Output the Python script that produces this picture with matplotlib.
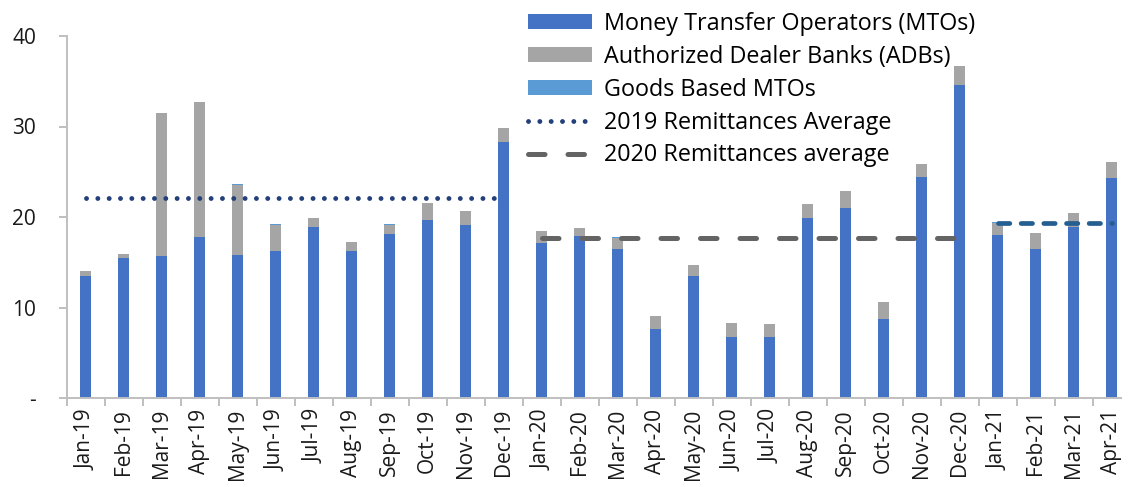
import matplotlib
matplotlib.use("Agg")
import matplotlib.pyplot as plt
import numpy as np

months = ["Jan-19", "Feb-19", "Mar-19", "Apr-19", "May-19", "Jun-19", "Jul-19",
          "Aug-19", "Sep-19", "Oct-19", "Nov-19", "Dec-19",
          "Jan-20", "Feb-20", "Mar-20", "Apr-20", "May-20", "Jun-20", "Jul-20",
          "Aug-20", "Sep-20", "Oct-20", "Nov-20", "Dec-20",
          "Jan-21", "Feb-21", "Mar-21", "Apr-21"]

mtos = [13.45, 15.48, 15.70, 17.77, 15.78, 16.25, 18.91, 16.22, 18.13, 19.68, 19.13, 28.31,
        17.14, 17.91, 16.48, 7.59, 13.49, 6.75, 6.75, 19.90, 20.94, 8.74, 24.40, 34.57,
        18.06, 16.51, 18.87, 24.33]
adbs = [0.63, 0.48, 15.80, 14.89, 7.81, 2.92, 0.96, 1.03, 1.04, 1.85, 1.51, 1.51,
        1.29, 0.89, 1.25, 1.44, 1.18, 1.54, 1.40, 1.55, 1.88, 1.88, 1.48, 2.14,
        1.33, 1.74, 1.62, 1.77]
goods = [0.005] * 28

avg_2019 = 22.12
avg_2020 = 17.73
avg_2021 = 19.39

plt.rcParams['font.family'] = ['Open Sans', 'DejaVu Sans']

fig = plt.figure(figsize=(11.22, 4.87), dpi=100)
ax = fig.add_axes([66.7 / 1122, 89 / 487, 1064 / 1122, 362 / 487])

x = np.arange(len(months))
mtos_a = np.array(mtos)
adbs_a = np.array(adbs)
goods_a = np.array(goods)
w = 0.305

b1 = ax.bar(x, mtos_a, w, color='#4472C4', label='Money Transfer Operators (MTOs)', zorder=2)
b2 = ax.bar(x, adbs_a, w, bottom=mtos_a, color='#A5A5A5', label='Authorized Dealer Banks (ADBs)', zorder=2)
b3 = ax.bar(x, goods_a, w, bottom=mtos_a + adbs_a, color='#5B9BD5', label='Goods Based MTOs', zorder=2)

i19 = np.arange(0, 12)
i20 = np.arange(12, 24)
i21 = np.arange(24, 28)
l1, = ax.plot(i19, [avg_2019] * len(i19), color='#24407A', lw=3.5,
              linestyle=(0, (0.01, 2.32)), dash_capstyle='round', solid_capstyle='round',
              label='2019 Remittances Average', zorder=3)
l2, = ax.plot(i20, [avg_2020] * len(i20), color='#646464', lw=3.6,
              linestyle=(0, (3.3, 4.6)), dash_capstyle='round',
              label='2020 Remittances average', zorder=3)
l3, = ax.plot(i21, [avg_2021] * len(i21), color='#255E91', lw=3.4,
              linestyle=(0, (2.4, 2.4)), dash_capstyle='round', zorder=3)

ax.set_xlim(-0.5, len(months) - 0.5)
ax.set_ylim(0, 40)
ax.set_yticks([0, 10, 20, 30, 40])
ax.set_yticklabels(['-', '10', '20', '30', '40'])
ax.set_xticks(x)
ax.set_xticklabels(months, rotation=90)
ax.set_xticks(np.arange(-0.5, len(months), 1), minor=True)

for s in ['top', 'right']:
    ax.spines[s].set_visible(False)
for s in ['left', 'bottom']:
    ax.spines[s].set_color('#BFBFBF')
    ax.spines[s].set_linewidth(1.4)

ax.tick_params(axis='y', length=6, width=1.4, color='#BFBFBF', labelsize=15, pad=16, labelcolor='#1a1a1a')
ax.tick_params(axis='x', which='major', length=0, labelsize=15, pad=8, labelcolor='#1a1a1a')
ax.tick_params(axis='x', which='minor', length=6, width=1.4, color='#BFBFBF')

leg = fig.legend(handles=[b1, b2, b3, l1, l2], loc='upper left',
                 bbox_to_anchor=(528 / 1122, 1 - 12 / 487), frameon=False,
                 fontsize=16.8, handlelength=2.75, handleheight=0.6, handletextpad=0.5,
                 labelspacing=0.38, borderpad=0, borderaxespad=0)

fig.savefig('out.png', dpi=100)
